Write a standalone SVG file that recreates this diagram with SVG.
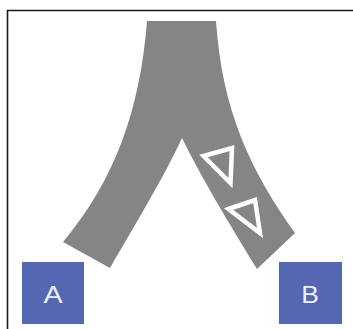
<svg xmlns="http://www.w3.org/2000/svg" width="353" height="329" viewBox="0 0 353 329">
<style>
.box{fill:#5566b3}
.lbl{fill:#eef0fa;font-family:"Liberation Sans",Arial,sans-serif;font-size:23px;text-anchor:middle}
.tri{fill:#858585;stroke:#ffffff;stroke-width:4.5;stroke-linejoin:miter}
</style>
<rect width="353" height="329" fill="#ffffff"/>
<path d="M7.5,329 L7.5,10.5 L353,10.5" fill="none" stroke="#1a1a1a" stroke-width="1.6"/>
<g id="connectors">
<path id="fork" d="M147,21 L216,21 C222,110 250,170 295,233 L257,269 C230,225 200,175 182,138 C165,175 135,225 110,268 L63,242 C115,180 140,110 147,21 Z" fill="#858585"/>
<polygon class="tri" points="203.5,156 232,148 230.5,183"/>
<polygon class="tri" points="228.5,209 255,200 260,233"/>
</g>
<g id="A">
<rect class="box" x="22" y="262" width="62" height="62"/>
<text class="lbl" x="53" y="303" transform="translate(53 0) scale(1.25 1) translate(-53 0)">A</text>
</g>
<g id="B">
<rect class="box" x="279" y="262" width="63" height="62"/>
<text class="lbl" x="310" y="303" transform="translate(310 0) scale(1.15 1) translate(-310 0)">B</text>
</g>
</svg>
